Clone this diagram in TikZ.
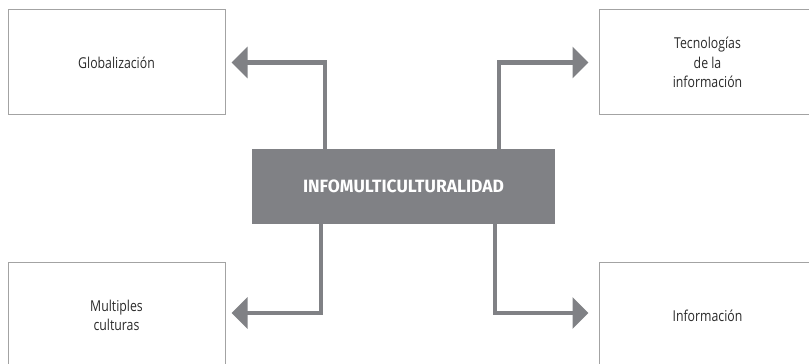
\documentclass[tikz,border=0pt]{standalone}
\usepackage{fontspec}
\usetikzlibrary{arrows.meta}
\newfontfamily\boxfont[FakeStretch=0.82]{Open Sans}
\newfontfamily\hubfont[FakeStretch=0.98]{Fira Sans}
\definecolor{hubgray}{HTML}{808185}
\definecolor{framegray}{HTML}{A3A3A3}
\definecolor{txtgray}{HTML}{2B2B2B}
\tikzset{
  topic/.style={draw=framegray, line width=1pt, minimum width=217pt, minimum height=105pt,
    align=center, text=txtgray, font=\boxfont\fontsize{15}{19.5}\selectfont},
  hubbox/.style={fill=hubgray, minimum width=303pt, minimum height=75pt, inner sep=0pt,
    text=white, font=\hubfont\bfseries\fontsize{17.8}{20}\selectfont},
  link/.style={draw=hubgray, line width=4.5pt, -{Triangle[length=16pt,width=31pt]}}
}

\begin{document}
\begin{tikzpicture}[x=1pt,y=1pt]
  \clip (0,0) rectangle (809,364);
  \node[hubbox] (hub) at (403.5,177.5) {INFOMULTICULTURALIDAD};
  \foreach \name/\x/\y/\txt in {glob/116.5/301.5/{Globalizaci\'on},
                                tec/707.5/301.5/{Tecnolog\'{\i}as\\de la\\informaci\'on},
                                mult/116.5/48.5/{Multiples\\culturas},
                                info/707.5/48.5/{Informaci\'on}} { %one box per topic
    \node[topic] (\name) at (\x,\y) {\txt};
  }
  % arrows leave the hub upwards / downwards and turn to the boxes
  \draw[link, shorten >=6pt] ([xshift=73pt]hub.north west) |- (glob.east);
  \draw[link, shorten >=10pt] ([xshift=247pt]hub.north west) |- (tec.west);
  \draw[link, shorten >=6pt] ([xshift=69pt]hub.south west) |- ([yshift=2.5pt]mult.east);
  \draw[link, shorten >=10pt] ([xshift=243pt]hub.south west) |- ([yshift=2.5pt]info.west);
\end{tikzpicture}
\end{document}
